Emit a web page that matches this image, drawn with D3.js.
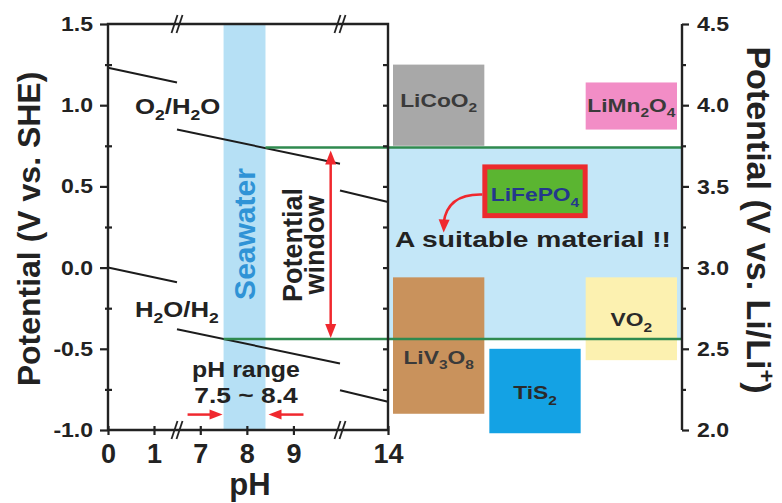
<!DOCTYPE html>
<html>
<head>
<meta charset="utf-8">
<script src="https://cdn.jsdelivr.net/npm/d3@7"></script>
<style>
  html, body { margin: 0; padding: 0; background: #fff; }
  svg { display: block; font-family: "Liberation Sans", Arial, Helvetica, sans-serif; font-weight: bold; }
</style>
</head>
<body>
<svg id="chart" width="782" height="503"></svg>
<script>
// ---- data ----------------------------------------------------------------
// pH axis is broken: only these pH segments are shown
const phSegments = [[0, 1.5], [6.5, 10], [12.8, 14]];
const phTicks = [0, 1, 7, 8, 9, 14];
const sheTicks = [-1.0, -0.5, 0.0, 0.5, 1.0, 1.5];
const sheMinor = [-0.75, -0.25, 0.25, 0.75, 1.25];
const liTicks = [2.0, 2.5, 3.0, 3.5, 4.0, 4.5];
const liMinor = [2.25, 2.75, 3.25, 3.75, 4.25];

// water stability lines, [pH, E vs SHE] end points of each visible segment
const o2Line = [[[0, 1.23], [1.5, 1.14]], [[6.5, 0.85], [10, 0.64]], [[12.8, 0.475], [14, 0.404]]];
const h2Line = [[[0, 0.0], [1.5, -0.09]], [[6.5, -0.38], [10, -0.59]], [[12.8, -0.755], [14, -0.826]]];

const seawaterPH = [7.5, 8.4];       // seawater pH range
const windowSHE = [-0.44, 0.74];     // potential window of seawater (V vs SHE)
const windowArrowPH = 9.8;
const rangeArrowSHE = -0.905;

// electrode materials, potentials vs Li/Li+
const matNames  = ["LiCoO2", "LiMn2O4", "LiFePO4", "LiV3O8", "TiS2", "VO2"];
const matColumn = [0, 2, 1, 0, 1, 2];
const matLow    = [3.75, 3.85, 3.32, 2.10, 1.98, 2.43];
const matHigh   = [4.25, 4.14, 3.62, 2.94, 2.50, 2.94];
const matV      = [4.03, 4.00, 3.45, 2.45, 2.23, 2.68];
const matFill   = ["#a8a8a8", "#f28dc6", "#5bb531", "#c9925c", "#14a2e4", "#fcf1b0"];
const matText   = ["#3a3a3a", "#3a3a3a", "#24388c", "#3a3a3a", "#2a2a2a", "#2a2a2a"];

// ---- scales ----------------------------------------------------------------
const svg = d3.select("#chart");
const plot = { left: 108, right: 388, top: 24, bottom: 430 };
const panelRight = 682;
const ink = "#222";

const x = d3.scaleLinear()
  .domain(phSegments.flat())
  .range([plot.left, 177, 177, 340, 340, plot.right]);
const yShe = d3.scaleLinear().domain([-1.0, 1.5]).range([plot.bottom, plot.top]);
const yLi = d3.scaleLinear().domain([2.0, 4.5]).range([plot.bottom, plot.top]);
const col = d3.scaleBand().domain([0, 1, 2]).range([plot.right, panelRight])
  .paddingInner(0.052).paddingOuter(0.052);

// stretch text horizontally by factor k
function widen(sel, k) {
  sel.each(function () {
    const L = this.getComputedTextLength();
    this.setAttribute("textLength", L * k);
    this.setAttribute("lengthAdjust", "spacingAndGlyphs");
  });
}
// chemical formula with subscript digits
function chem(text, str, fs) {
  const parts = str.match(/\d+|\D+/g);
  let shift = 0;
  parts.forEach(p => {
    const t = text.append("tspan").text(p);
    if (/^\d+$/.test(p)) {
      t.attr("font-size", fs * 0.68).attr("dy", fs * 0.28 - shift);
      shift = fs * 0.28;
    } else if (shift) {
      t.attr("dy", -shift);
      shift = 0;
    }
  });
}
function arrowHead(g, tipX, tipY, angle, len, wid, color) {
  const a = angle * Math.PI / 180;
  const bx = tipX - Math.cos(a) * len, by = tipY - Math.sin(a) * len;
  const px = -Math.sin(a) * wid / 2, py = Math.cos(a) * wid / 2;
  g.append("path")
    .attr("d", `M${tipX},${tipY}L${bx + px},${by + py}L${bx - px},${by - py}Z`)
    .attr("fill", color);
}

// ---- background regions -----------------------------------------------------
svg.append("rect")
  .attr("x", x(seawaterPH[0])).attr("width", x(seawaterPH[1]) - x(seawaterPH[0]))
  .attr("y", plot.top).attr("height", plot.bottom - plot.top)
  .attr("fill", "#b6e0f5");

svg.append("rect")
  .attr("x", plot.right).attr("width", panelRight - plot.right)
  .attr("y", yShe(windowSHE[1])).attr("height", yShe(windowSHE[0]) - yShe(windowSHE[1]))
  .attr("fill", "#c4e7f8");

// ---- material boxes ---------------------------------------------------------
const matG = svg.append("g");
matNames.forEach((name, i) => {
  const bx = col(matColumn[i]), bw = col.bandwidth();
  const y0 = yLi(matHigh[i]), y1 = yLi(matLow[i]);
  const r = matG.append("rect").attr("y", y0).attr("height", y1 - y0).attr("fill", matFill[i]);
  if (name === "LiFePO4") {
    r.attr("x", bx - 4.5).attr("width", bw + 9).attr("stroke", "#ec2a2d").attr("stroke-width", 5);
  } else {
    r.attr("x", bx).attr("width", bw);
  }
  const t = matG.append("text")
    .attr("x", bx + bw / 2).attr("y", yLi(matV[i])).attr("dy", "0.36em")
    .attr("text-anchor", "middle").attr("font-size", 19).attr("fill", matText[i]);
  chem(t, name, 19);
  widen(t, 1.2);
});

// ---- water stability lines -------------------------------------------------
const line = d3.line().x(d => x(d[0])).y(d => yShe(d[1]));
[o2Line, h2Line].forEach(segs => {
  segs.forEach(seg => {
    svg.append("path").attr("d", line(seg)).attr("fill", "none")
      .attr("stroke", "#1c1c1c").attr("stroke-width", 2);
  });
});

// ---- potential window limits ------------------------------------------------
svg.append("line")
  .attr("x1", x(seawaterPH[1])).attr("x2", panelRight)
  .attr("y1", yShe(windowSHE[1])).attr("y2", yShe(windowSHE[1]))
  .attr("stroke", "#2f8a4f").attr("stroke-width", 2.5);
svg.append("line")
  .attr("x1", x(seawaterPH[0])).attr("x2", panelRight)
  .attr("y1", yShe(windowSHE[0])).attr("y2", yShe(windowSHE[0]))
  .attr("stroke", "#2f8a4f").attr("stroke-width", 2.5);

// ---- arrows ------------------------------------------------------------------
const red = "#f0282e";
const arrG = svg.append("g");
const wx = x(windowArrowPH);
const wTop = yShe(windowSHE[1]) + 3, wBot = yShe(windowSHE[0]) - 1;
arrG.append("line").attr("x1", wx).attr("x2", wx).attr("y1", wTop + 10).attr("y2", wBot - 10)
  .attr("stroke", red).attr("stroke-width", 2.5);
arrowHead(arrG, wx, wTop, -90, 14, 11, red);
arrowHead(arrG, wx, wBot, 90, 14, 11, red);

const ry = yShe(rangeArrowSHE);
const lTip = x(seawaterPH[0]) - 1, rTip = x(seawaterPH[1]) + 3;
arrG.append("line").attr("x1", lTip - 35).attr("x2", lTip - 10).attr("y1", ry).attr("y2", ry)
  .attr("stroke", red).attr("stroke-width", 2.5);
arrowHead(arrG, lTip, ry, 0, 13, 10, red);
arrG.append("line").attr("x1", rTip + 35).attr("x2", rTip + 10).attr("y1", ry).attr("y2", ry)
  .attr("stroke", red).attr("stroke-width", 2.5);
arrowHead(arrG, rTip, ry, 180, 13, 10, red);

// curved pointer from LiFePO4 to its caption
const feX = col(1) - 7, feY = yLi(3.45);
const capX = col(0) + col.bandwidth() / 2 + 5;
arrG.append("path")
  .attr("d", `M${feX},${feY} Q${capX + 4},${feY - 1} ${capX},${feY + 28}`)
  .attr("fill", "none").attr("stroke", red).attr("stroke-width", 2.5);
arrowHead(arrG, capX, feY + 38, 92, 13, 11, red);

// ---- annotation text -------------------------------------------------------
const o2t = svg.append("text").attr("x", 135).attr("y", 114).attr("font-size", 22).attr("fill", ink);
chem(o2t, "O2/H2O", 22); widen(o2t, 1.17);
const h2t = svg.append("text").attr("x", 135).attr("y", 317).attr("font-size", 22).attr("fill", ink);
chem(h2t, "H2O/H2", 22); widen(h2t, 1.17);

svg.append("text")
  .attr("transform", `translate(${(x(seawaterPH[0]) + x(seawaterPH[1])) / 2},234) rotate(-90)`)
  .attr("text-anchor", "middle").attr("dy", "0.35em")
  .attr("font-size", 30).attr("fill", "#2f93d6").text("Seawater");

const pw = svg.append("text")
  .attr("transform", "translate(302,245) rotate(-90)")
  .attr("text-anchor", "middle").attr("font-size", 27).attr("fill", ink);
pw.append("tspan").attr("x", 0).attr("y", 0).text("Potential");
pw.append("tspan").attr("x", 0).attr("y", 22).text("window");

const pr1 = svg.append("text").attr("x", 246).attr("y", 377).attr("text-anchor", "middle")
  .attr("font-size", 22).attr("fill", ink).text("pH range");
widen(pr1, 1.13);
const pr2 = svg.append("text").attr("x", 246).attr("y", 403).attr("text-anchor", "middle")
  .attr("font-size", 22).attr("fill", ink).text("7.5 ~ 8.4");
widen(pr2, 1.2);

const sm = svg.append("text").attr("x", col(0) + 2).attr("y", 247)
  .attr("font-size", 22).attr("fill", ink).text("A suitable material !!");
widen(sm, 1.28);

// ---- axes ---------------------------------------------------------------------
function styleAxis(g) {
  g.attr("font-family", null).attr("font-size", null);
  g.select(".domain").remove();
  g.selectAll("line").attr("stroke", ink).attr("stroke-width", 2.2);
  g.selectAll("text").attr("fill", ink);
}

// frame of the pH panel
svg.append("path")
  .attr("d", `M${plot.left},${plot.bottom}V${plot.top}H${plot.right}V${plot.bottom}H${plot.left}`)
  .attr("fill", "none").attr("stroke", ink).attr("stroke-width", 2.4);
// Li axis line
svg.append("line").attr("x1", panelRight).attr("x2", panelRight)
  .attr("y1", plot.top).attr("y2", plot.bottom)
  .attr("stroke", ink).attr("stroke-width", 2.4);

const gL = svg.append("g").attr("transform", `translate(${plot.left},0)`)
  .call(d3.axisLeft(yShe).tickValues(sheTicks).tickSize(8).tickSizeOuter(0)
    .tickPadding(7).tickFormat(d => d.toFixed(1)));
styleAxis(gL);
gL.selectAll("text").attr("font-size", 20).call(widen, 1.15);

const gLm = svg.append("g").attr("transform", `translate(${plot.left},0)`)
  .call(d3.axisLeft(yShe).tickValues(sheMinor).tickSize(3).tickSizeOuter(0).tickFormat(""));
styleAxis(gLm);
gLm.selectAll("line").attr("x2", 4).attr("x1", -3);

const gF = svg.append("g").attr("transform", `translate(${plot.right},0)`)
  .call(d3.axisRight(yShe).tickValues(sheTicks.concat(sheMinor).filter(v => v > -1 && v < 1.5))
    .tickSize(-5).tickSizeOuter(0).tickFormat(""));
styleAxis(gF);

const gB = svg.append("g").attr("transform", `translate(0,${plot.bottom})`)
  .call(d3.axisBottom(x).tickValues(phTicks).tickSize(5).tickSizeOuter(0).tickFormat(d3.format("d")));
styleAxis(gB);
gB.selectAll("line").attr("y1", -4);
gB.selectAll("text").attr("y", 33).attr("dy", null).attr("font-size", 27);

const gR = svg.append("g").attr("transform", `translate(${panelRight},0)`)
  .call(d3.axisRight(yLi).tickValues(liTicks).tickSize(7).tickSizeOuter(0)
    .tickPadding(8).tickFormat(d => d.toFixed(1)));
styleAxis(gR);
gR.selectAll("text").attr("font-size", 21).call(widen, 1.1);

const gRm = svg.append("g").attr("transform", `translate(${panelRight},0)`)
  .call(d3.axisRight(yLi).tickValues(liMinor).tickSize(4).tickSizeOuter(0).tickFormat(""));
styleAxis(gRm);

// axis break marks
const breaks = [phSegments[0][1], phSegments[1][1]];
breaks.forEach(b => {
  [plot.top, plot.bottom].forEach(yy => {
    [-2.5, 2.5].forEach(d => {
      svg.append("line")
        .attr("x1", x(b) + d - 3).attr("y1", yy + 9)
        .attr("x2", x(b) + d + 3).attr("y2", yy - 9)
        .attr("stroke", ink).attr("stroke-width", 1.8);
    });
  });
});

// axis titles
svg.append("text")
  .attr("transform", "translate(40,229) rotate(-90)")
  .attr("text-anchor", "middle").attr("font-size", 32).attr("fill", ink)
  .text("Potential (V vs. SHE)");

const rt = svg.append("text")
  .attr("transform", "translate(747,220) rotate(90)")
  .attr("text-anchor", "middle").attr("font-size", 34).attr("fill", ink);
rt.append("tspan").text("Potential (V vs. Li/Li");
rt.append("tspan").attr("font-size", 22).attr("dy", -12).text("+");
rt.append("tspan").attr("dy", 12).text(")");

svg.append("text")
  .attr("x", 250).attr("y", 495).attr("text-anchor", "middle")
  .attr("font-size", 31).attr("fill", ink).text("pH");
</script>
</body>
</html>
